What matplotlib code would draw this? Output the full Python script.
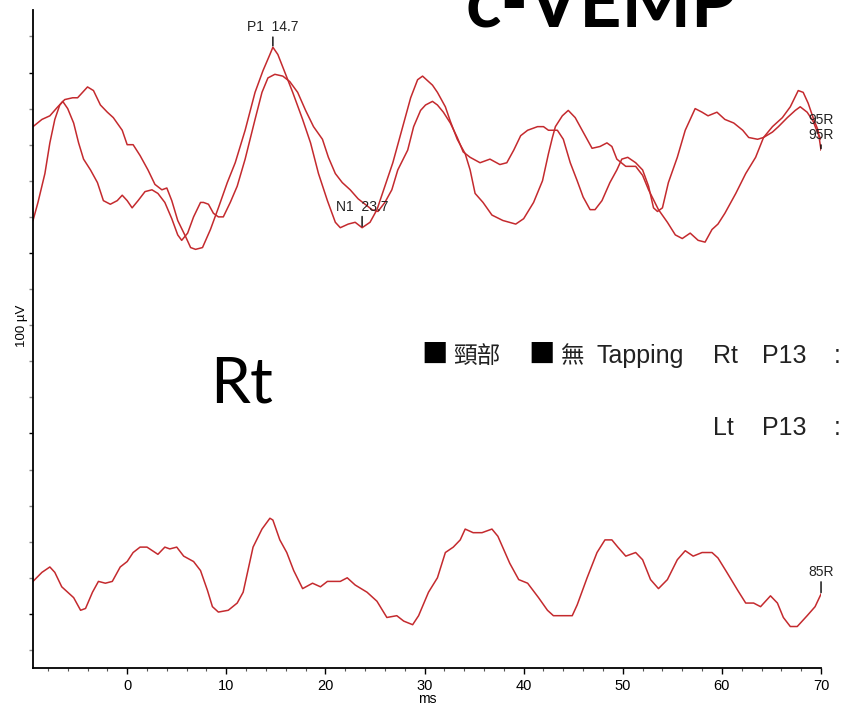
import matplotlib
matplotlib.use("Agg")
import matplotlib.pyplot as plt
from matplotlib.ticker import MultipleLocator

plt.rcParams['font.family'] = ['Liberation Sans', 'Noto Sans CJK TC', 'DejaVu Sans']

# upper pair of traces (95R), time in ms, amplitude in uV
t_a = [-9.5, -9.0, -8.3, -7.8, -7.3, -6.8, -6.5, -6.0, -5.4, -4.9,
       -4.4, -3.7, -3.0, -2.4, -1.7, -1.0, -0.5, 0.0, 0.5, 1.1,
       1.8, 2.5, 3.1, 3.8, 4.5, 5.1, 5.5, 6.1, 6.7, 7.4,
       7.7, 8.2, 8.7, 9.2, 9.7, 10.4, 11.1, 11.9, 12.9, 13.6,
       14.2, 14.9, 15.7, 16.4, 17.2, 18.0, 18.8, 19.7, 20.3, 21.0,
       21.7, 22.5, 23.3, 24.0, 24.7, 25.3, 26.0, 26.7, 27.3, 28.3,
       28.9, 29.6, 30.1, 30.8, 31.3, 31.9, 32.6, 33.3, 33.9, 34.6,
       35.6, 36.6, 37.6, 38.3, 39.0, 39.7, 40.4, 41.4, 42.0, 42.5,
       43.4, 44.0, 44.7, 45.4, 46.0, 46.7, 47.2, 47.9, 48.7, 49.4,
       49.9, 50.5, 51.3, 52.0, 52.6, 53.1, 53.5, 54.0, 54.6, 55.5,
       56.3, 57.3, 58.0, 58.6, 59.5, 60.3, 61.2, 62.1, 62.7, 63.6,
       64.2, 65.1, 65.7, 66.6, 67.4, 67.9, 68.6, 69.2, 69.7, 70.0]
v_a = [218, 228, 244, 261, 274, 282, 284, 280, 272, 261,
       252, 246, 239, 229, 227, 229, 232, 229, 225, 229,
       234, 235, 233, 228, 219, 210, 207, 211, 220, 228,
       228, 227, 222, 220, 220, 228, 237, 252, 274, 289,
       297, 299, 298, 295, 289, 279, 270, 263, 253, 244,
       239, 235, 230, 227, 224, 223, 228, 235, 246, 257,
       270, 279, 282, 284, 282, 278, 272, 264, 256, 253,
       250, 252, 249, 250, 257, 265, 268, 270, 270, 268,
       268, 263, 250, 240, 231, 224, 224, 229, 239, 246,
       252, 253, 250, 246, 237, 225, 223, 225, 239, 253,
       268, 280, 278, 276, 278, 274, 272, 268, 264, 263,
       264, 267, 270, 275, 279, 281, 278, 273, 266, 263]

t_b = [-9.5, -8.6, -7.8, -7.0, -6.3, -5.5, -5.0, -4.5, -4.0, -3.4,
       -2.7, -2.0, -1.4, -0.5, 0.0, 0.6, 1.3, 2.1, 2.8, 3.5,
       4.0, 4.5, 5.1, 5.9, 6.4, 6.9, 7.6, 8.4, 9.2, 10.1,
       10.9, 11.9, 12.9, 13.7, 14.4, 14.7, 15.2, 15.7, 16.7, 17.7,
       18.5, 19.3, 20.2, 21.0, 21.5, 22.3, 23.0, 23.7, 24.5, 25.2,
       26.0, 26.8, 27.7, 28.6, 29.3, 29.8, 30.8, 31.3, 32.1, 32.6,
       33.3, 34.1, 34.6, 35.1, 35.9, 36.8, 37.9, 39.2, 40.0, 41.0,
       41.9, 42.5, 42.9, 43.2, 43.9, 44.5, 45.2, 45.7, 46.4, 46.9,
       47.7, 48.4, 48.9, 49.4, 50.3, 51.3, 52.0, 52.6, 53.6, 54.5,
       55.3, 56.0, 56.8, 57.6, 58.3, 59.0, 59.6, 60.3, 61.4, 62.4,
       63.4, 64.2, 65.1, 66.1, 66.9, 67.7, 68.2, 68.7, 69.2, 69.7, 70.0]
v_b = [270, 274, 276, 281, 285, 286, 286, 289, 292, 290,
       282, 278, 275, 268, 260, 260, 254, 246, 238, 235,
       236, 229, 218, 209, 203, 202, 203, 213, 225, 239,
       250, 268, 289, 301, 310, 314, 310, 303, 289, 274,
       261, 244, 229, 217, 214, 216, 217, 214, 217, 224,
       237, 250, 268, 286, 296, 298, 293, 289, 281, 273,
       263, 255, 246, 233, 228, 221, 218, 216, 219, 228,
       240, 255, 264, 270, 276, 279, 275, 270, 263, 258,
       259, 261, 259, 252, 248, 248, 243, 235, 224, 217,
       210, 208, 211, 207, 206, 213, 216, 222, 233, 244,
       253, 264, 270, 275, 281, 290, 289, 283, 275, 268, 257]

# lower trace (85R)
t_c = [-9.5, -8.6, -7.8, -7.3, -6.6, -6.0, -5.4, -4.7, -4.2, -3.5,
       -2.9, -2.2, -1.5, -0.7, 0.0, 0.6, 1.3, 2.0, 3.1, 3.8,
       4.3, 5.0, 5.7, 6.7, 7.4, 8.1, 8.6, 9.2, 10.2, 11.1,
       11.7, 12.7, 13.6, 14.4, 14.7, 15.4, 16.1, 16.8, 17.7, 18.7,
       19.5, 20.2, 21.5, 22.2, 23.0, 24.2, 25.2, 26.2, 27.2, 27.9,
       28.8, 29.4, 30.4, 31.3, 32.1, 32.9, 33.6, 34.1, 34.9, 35.8,
       36.8, 37.4, 38.6, 39.5, 40.4, 41.5, 42.4, 43.0, 44.9, 45.4,
       46.4, 47.4, 48.2, 48.9, 49.5, 50.3, 51.3, 52.0, 52.8, 53.6,
       54.5, 55.5, 56.3, 57.1, 58.0, 59.0, 59.6, 60.5, 61.6, 62.4,
       63.2, 63.9, 64.9, 65.6, 66.2, 66.9, 67.6, 68.6, 69.4, 70.0]
v_c = [18, 23, 26, 23, 15, 12, 9, 2, 3, 12,
       18, 17, 18, 26, 29, 34, 37, 37, 33, 37,
       36, 37, 32, 29, 24, 13, 4, 1, 2, 6,
       12, 37, 47, 53, 52, 41, 34, 24, 14, 17,
       15, 18, 18, 20, 16, 12, 7, -2, -1, -4,
       -6, -1, 12, 20, 34, 37, 41, 47, 45, 45,
       47, 43, 28, 19, 17, 9, 2, -1, -1, 5,
       20, 34, 41, 41, 37, 32, 34, 30, 19, 14,
       19, 30, 35, 32, 34, 34, 31, 23, 13, 6,
       6, 4, 10, 6, -2, -7, -7, -1, 4, 11]

x_ticks = [0, 10, 20, 30, 40, 50, 60, 70]

red = '#c42a2e'

fig = plt.figure(figsize=(8.42, 7.09), dpi=100)
ax = fig.add_axes([0.0392, 0.0578, 0.9359, 0.928])

ax.plot(t_a, v_a, color=red, lw=1.1)
ax.plot(t_b, v_b, color=red, lw=1.1)
ax.plot(t_c, v_c, color=red, lw=1.1)

ax.set_xlim(-9.5, 70)
ax.set_ylim(-30, 334.6)
ax.set_xticks(x_ticks)
ax.xaxis.set_minor_locator(MultipleLocator(2))
ax.yaxis.set_major_locator(MultipleLocator(100))
ax.yaxis.set_minor_locator(MultipleLocator(20))
ax.tick_params(axis='y', which='both', labelleft=False, length=3, width=1)
ax.tick_params(axis='y', which='minor', color='#888888')
ax.tick_params(axis='x', which='major', length=4, width=1, pad=4, labelsize=10.5)
ax.tick_params(axis='x', which='minor', length=2.5, width=0.8, color='#555555')
for s in ['top', 'right']:
    ax.spines[s].set_visible(False)
for s in ['left', 'bottom']:
    ax.spines[s].set_linewidth(1.3)

ax.set_xlabel('ms', fontsize=10)
ax.xaxis.set_label_coords(0.5, -0.036)
ax.set_ylabel('100 µV', fontsize=9.5)
ax.yaxis.set_label_coords(-0.006, 0.52)


def mark(x, y, text, dy=13, arrow=True):
    props = None
    if arrow:
        props = dict(arrowstyle='-', color='black', lw=1, shrinkA=0, shrinkB=1)
    ax.annotate(text, xy=(x, y), xytext=(0, dy), textcoords='offset pixels',
                ha='center', va='bottom', fontsize=10, color='#222222',
                arrowprops=props)


i_p1 = v_b.index(max(v_b))
i_n1 = t_b.index(23.7)
mark(t_b[i_p1], v_b[i_p1], 'P1  14.7')
mark(t_b[i_n1], v_b[i_n1], 'N1  23.7', dy=14)
mark(t_b[-1], v_b[-1], '95R', dy=8)
mark(t_b[-1], v_b[-1], '95R', dy=23, arrow=False)
mark(t_c[-1], v_c[-1], '85R', dy=15)

# big overlay captions
fig.text(0.7144, 0.962, 'c-VEMP', family='Lato', weight='bold', fontsize=53,
         ha='center', va='baseline', color='black')
fig.text(0.2494, 0.4316, 'Rt', family='Lato', fontsize=46,
         ha='left', va='baseline', color='black')

cjk = ['Noto Sans CJK TC', 'DejaVu Sans']
y1 = 0.488
y2 = 0.3865
fig.text(0.501, y1, '■', family=cjk, fontsize=19, va='baseline')
fig.text(0.538, y1, '頸部', family=cjk, fontsize=17, va='baseline', color='#222222')
fig.text(0.627, y1, '■', family=cjk, fontsize=19, va='baseline')
fig.text(0.665, y1, '無', family=cjk, fontsize=17, va='baseline', color='#222222')
fig.text(0.709, y1, 'Tapping', fontsize=18, va='baseline', color='#222222')
fig.text(0.847, y1, 'Rt', fontsize=18, va='baseline', color='#222222')
fig.text(0.905, y1, 'P13', fontsize=18, va='baseline', color='#222222')
fig.text(0.990, y1, ':', fontsize=18, va='baseline', color='#222222')
fig.text(0.847, y2, 'Lt', fontsize=18, va='baseline', color='#222222')
fig.text(0.905, y2, 'P13', fontsize=18, va='baseline', color='#222222')
fig.text(0.990, y2, ':', fontsize=18, va='baseline', color='#222222')

fig.savefig('out.png', dpi=100)
